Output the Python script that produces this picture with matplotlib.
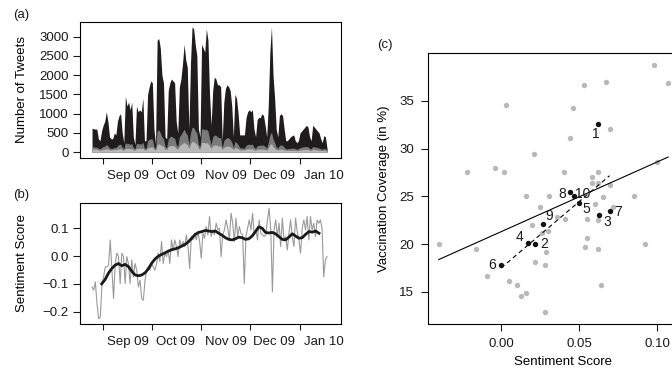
import numpy as np
import pandas as pd
import matplotlib
matplotlib.use("Agg")
import matplotlib.pyplot as plt

plt.rcParams['font.family'] = ['Liberation Sans', 'DejaVu Sans']
plt.rcParams['font.size'] = 9.5
plt.rcParams['text.color'] = '#1a1a1a'
plt.rcParams['xtick.color'] = '#1a1a1a'
plt.rcParams['ytick.color'] = '#1a1a1a'

# (a) daily tweet counts, stacked layers (cumulative tops)
tweets_total = [620, 610, 600, 600, 350, 300, 550, 700, 800, 1050, 800,
                400, 350, 350, 500, 450, 800, 950, 1000, 500, 250,
                1450, 1200, 1300, 1100, 1300, 400, 200, 1200, 1050, 1100,
                1050, 1400, 300, 300, 1500, 1700, 1850, 1800, 600, 200,
                2900, 2950, 2700, 2000, 1800, 400, 350, 1600, 1800, 1900,
                1850, 1800, 800, 500, 1700, 1900, 2300, 2800, 2400, 2200,
                600, 2300, 3250, 3200, 2800, 2500, 600, 400, 2800, 2700,
                2600, 3200, 2900, 1500, 700, 1600, 1950, 1900, 1750, 1750,
                1700, 300, 1300, 1650, 1750, 1700, 1600, 1200, 400, 1500,
                1400, 1000, 450, 450, 450, 450, 900, 1050, 1100, 1050,
                1100, 600, 400, 850, 900, 900, 1000, 950, 700, 400,
                1200, 2600, 3250, 2000, 1400, 600, 400, 950, 1000, 950,
                600, 300, 300, 350, 400, 430, 450, 300, 250, 300,
                500, 550, 600, 650, 700, 650, 400, 300, 700, 650,
                600, 550, 500, 350, 250, 430, 400, 100]
tweets_mid = [150, 140, 130, 130, 100, 90, 120, 150, 160, 200, 170,
              110, 100, 100, 130, 120, 170, 200, 210, 130, 90,
              250, 220, 230, 200, 230, 120, 90, 230, 220, 220,
              210, 260, 110, 100, 300, 330, 350, 340, 150, 90,
              550, 580, 500, 400, 350, 150, 120, 350, 400, 420,
              380, 370, 200, 150, 400, 450, 530, 600, 500, 450,
              200, 500, 650, 640, 560, 500, 200, 150, 600, 610,
              580, 600, 550, 350, 200, 400, 450, 440, 400, 380,
              380, 120, 300, 350, 380, 370, 330, 260, 130, 280,
              250, 200, 120, 110, 110, 110, 180, 200, 210, 200,
              210, 130, 100, 170, 180, 180, 190, 180, 150, 110,
              250, 450, 520, 350, 250, 140, 110, 180, 190, 180,
              130, 90, 90, 100, 100, 110, 110, 90, 80, 90,
              120, 130, 140, 150, 150, 140, 100, 90, 150, 140,
              130, 120, 110, 90, 80, 100, 90, 40]
tweets_low = [80, 80, 80, 80, 60, 50, 60, 70, 80, 90, 80,
              60, 60, 60, 70, 70, 80, 90, 100, 70, 50,
              100, 100, 100, 90, 100, 60, 50, 100, 100, 100,
              100, 110, 60, 60, 120, 130, 140, 140, 80, 50,
              200, 220, 200, 170, 150, 80, 70, 150, 170, 180,
              170, 160, 100, 80, 170, 200, 230, 260, 220, 200,
              100, 210, 280, 270, 240, 210, 100, 80, 250, 260,
              240, 250, 230, 160, 100, 170, 190, 190, 170, 160,
              160, 70, 130, 150, 160, 160, 140, 120, 70, 120,
              110, 90, 60, 60, 60, 60, 80, 90, 90, 90,
              90, 60, 50, 80, 80, 80, 80, 80, 70, 50,
              110, 200, 220, 150, 110, 70, 60, 80, 80, 80,
              60, 50, 50, 50, 50, 50, 50, 50, 40, 50,
              60, 60, 70, 70, 70, 70, 50, 50, 70, 70,
              60, 60, 50, 50, 40, 50, 50, 20]

# (b) daily sentiment and smoothed sentiment
sentiment_daily = [-0.111, -0.123, -0.093, -0.171, -0.225, -0.219, -0.099, -0.075,
                   -0.039, -0.039, -0.033, 0.058, -0.051, -0.153, -0.027, 0.010,
                   -0.002, -0.099, 0.010, -0.002, -0.099, -0.002, -0.027, -0.099,
                   -0.014, -0.075, -0.027, -0.051, -0.111, -0.087, -0.153, -0.159,
                   -0.087, -0.051, -0.039, -0.051, -0.027, -0.039, -0.051, -0.027,
                   0.010, -0.020, 0.052, -0.027, 0.010, -0.002, 0.022, -0.027,
                   0.058, 0.022, 0.058, 0.034, -0.002, 0.058, 0.034, 0.052,
                   0.034, 0.076, 0.034, -0.045, 0.070, 0.058, 0.082, 0.058,
                   0.088, 0.052, -0.008, 0.082, 0.064, 0.106, 0.076, 0.142,
                   0.070, 0.094, 0.076, 0.118, 0.094, 0.100, -0.002, 0.076,
                   0.094, 0.130, 0.100, 0.058, 0.154, 0.118, 0.052, 0.136,
                   0.070, 0.106, 0.082, 0.076, -0.099, 0.070, 0.100, 0.130,
                   0.094, 0.154, 0.076, 0.094, 0.058, 0.130, 0.082, 0.076,
                   0.070, 0.076, 0.130, 0.172, 0.094, -0.129, 0.094, 0.130,
                   0.070, 0.118, 0.034, 0.136, 0.058, 0.070, 0.022, 0.082,
                   0.130, 0.070, 0.034, 0.136, 0.088, 0.058, 0.010, 0.100,
                   0.130, 0.094, 0.142, 0.058, 0.142, 0.094, 0.118, 0.070,
                   0.130, 0.118, 0.130, 0.100, -0.075, -0.014, -0.002]
sentiment_smooth = [-0.100, -0.085, -0.062, -0.045, -0.033, -0.027, -0.035, -0.030,
                    -0.038, -0.055, -0.068, -0.071, -0.068, -0.060, -0.045, -0.025,
                    -0.010, 0.000, 0.006, 0.012, 0.018, 0.023, 0.026, 0.030,
                    0.036, 0.042, 0.052, 0.065, 0.078, 0.085, 0.088, 0.092,
                    0.090, 0.088, 0.090, 0.082, 0.075, 0.066, 0.060, 0.058,
                    0.062, 0.068, 0.066, 0.060, 0.062, 0.072, 0.088, 0.105,
                    0.100, 0.085, 0.083, 0.085, 0.080, 0.070, 0.060, 0.058,
                    0.068, 0.080, 0.072, 0.064, 0.066, 0.078, 0.088, 0.086,
                    0.090, 0.082]

month_labels = ['Sep 09', 'Oct 09', 'Nov 09', 'Dec 09', 'Jan 10']

# (c) state / region sentiment vs vaccination coverage
state_sentiment = [-0.040, -0.022, 0.003, -0.004, 0.002, -0.016, -0.009, 0.005,
                   0.010, 0.013, 0.016, 0.021, 0.016, 0.025, 0.031, 0.020,
                   0.022, 0.028, 0.029, 0.026, 0.030, 0.028, 0.040, 0.044,
                   0.046, 0.053, 0.036, 0.041, 0.058, 0.058, 0.055, 0.060,
                   0.062, 0.062, 0.062, 0.055, 0.054, 0.062, 0.064, 0.065,
                   0.070, 0.070, 0.067, 0.072, 0.085, 0.092, 0.098, 0.107,
                   0.100]
state_coverage = [20.0, 27.5, 34.6, 28.0, 27.6, 19.5, 16.7, 16.1,
                  15.7, 14.6, 14.9, 29.4, 25.0, 23.9, 25.0, 22.0,
                  18.1, 17.8, 19.2, 21.2, 21.4, 12.9, 27.5, 31.1,
                  34.2, 36.7, 22.8, 22.6, 27.0, 26.4, 22.6, 24.2,
                  27.5, 22.5, 26.4, 20.6, 19.7, 19.5, 15.7, 24.9,
                  32.0, 26.2, 37.0, 23.9, 25.0, 20.0, 38.8, 36.9,
                  28.6]
region_labels = ['1', '2', '3', '4', '5', '6', '7', '8', '9', '10']
region_sentiment = [0.062, 0.022, 0.063, 0.017, 0.050, 0.000, 0.0695, 0.044, 0.027, 0.047]
region_coverage = [32.6, 20.0, 23.1, 20.1, 24.3, 17.8, 23.5, 25.5, 22.1, 25.0]
fit_all = (21.3, 73.0)      # intercept, slope (all states)
fit_regions = (17.5, 139.0)  # intercept, slope (regions)

label_offsets = {'1': (-1.5, -7.5), '2': (6, 0), '3': (6, -5.5), '4': (-6, 4.5),
                 '5': (5.5, -4), '6': (-6.5, 0), '7': (6, -1), '8': (-5.5, -1.5),
                 '9': (4, 5.5), '10': (6, 1.5)}

fig = plt.figure(figsize=(6.72, 3.71), dpi=100)

tweet_dates = pd.date_range('2009-08-25', '2010-01-18', periods=len(tweets_total))
sent_dates = pd.date_range('2009-08-25', '2010-01-18', periods=len(sentiment_daily))
smooth_dates = pd.date_range('2009-08-31', '2010-01-13', periods=len(sentiment_smooth))
month_starts = pd.date_range('2009-09-01', '2010-01-01', freq='MS')
month_mid = month_starts + pd.Timedelta(days=15)
xlo, xhi = pd.Timestamp('2009-08-17 12:00'), pd.Timestamp('2010-01-26 12:00')


def style_time_axis(ax):
    ax.set_xlim(xlo, xhi)
    ax.set_xticks(month_starts)
    ax.set_xticklabels([])
    ax.set_xticks(month_mid, minor=True)
    ax.set_xticklabels(month_labels, minor=True)
    ax.tick_params(axis='x', which='major', length=4, width=0.8)
    ax.tick_params(axis='x', which='minor', length=0, pad=8.5)
    ax.tick_params(axis='y', length=5, width=0.8, pad=3)
    ax.yaxis.set_label_coords(-0.2, 0.5)
    for s in ax.spines.values():
        s.set_linewidth(0.8)


ax1 = fig.add_axes([0.119, 0.574, 0.388, 0.367])
ax1.fill_between(tweet_dates, 0, tweets_total, color='#1e1c1c', lw=0)
ax1.fill_between(tweet_dates, 0, tweets_mid, color='#7a7a7a', lw=0)
ax1.fill_between(tweet_dates, 0, tweets_low, color='#b8b8b8', lw=0)
ax1.set_ylim(-150, 3380)
ax1.set_yticks([0, 500, 1000, 1500, 2000, 2500, 3000])
ax1.set_ylabel('Number of Tweets')
style_time_axis(ax1)
fig.text(0.019, 0.96, '(a)', va='center')

ax2 = fig.add_axes([0.119, 0.127, 0.388, 0.326])
ax2.plot(sent_dates, sentiment_daily, color='#9a9a9a', lw=0.8)
ax2.plot(smooth_dates, sentiment_smooth, color='#1a1a1a', lw=2.0)
ax2.set_ylim(-0.244, 0.191)
ax2.set_yticks([-0.2, -0.1, 0.0, 0.1])
ax2.set_yticklabels(['\u22120.2', '\u22120.1', '0.0', '0.1'])
ax2.set_ylabel('Sentiment Score')
style_time_axis(ax2)
fig.text(0.019, 0.474, '(b)', va='center')

ax3 = fig.add_axes([0.637, 0.127, 0.402, 0.730])
ax3.scatter(state_sentiment, state_coverage, s=15, color='#b9b9b9', lw=0, zorder=2)
xs = np.array([min(state_sentiment), max(state_sentiment)])
ax3.plot(xs, fit_all[0] + fit_all[1] * xs, color='black', lw=0.8, zorder=3)
xr = np.array([min(region_sentiment), max(region_sentiment)])
ax3.plot(xr, fit_regions[0] + fit_regions[1] * xr, color='black', lw=0.8,
         ls=(0, (4, 3)), zorder=3)
ax3.scatter(region_sentiment, region_coverage, s=15, color='#111111', lw=0, zorder=4)
for lab, xv, yv in zip(region_labels, region_sentiment, region_coverage):
    ax3.annotate(lab, (xv, yv), xytext=label_offsets[lab], textcoords='offset points',
                 ha='center', va='center', fontsize=10, zorder=5)
ax3.set_xlim(-0.0468, 0.1263)
ax3.set_ylim(11.65, 40.0)
ax3.set_xticks([0.0, 0.05, 0.10])
ax3.set_xticklabels(['0.00', '0.05', '0.10'])
ax3.set_yticks([15, 20, 25, 30, 35])
ax3.tick_params(length=5, width=0.8, pad=5)
for s in ax3.spines.values():
    s.set_linewidth(0.8)
ax3.set_xlabel('Sentiment Score')
ax3.xaxis.set_label_coords(0.5, -0.118)
ax3.set_ylabel('Vaccination Coverage (in %)')
ax3.yaxis.set_label_coords(-0.142, 0.5)
fig.text(0.561, 0.878, '(c)', va='center')

fig.savefig('out.png', dpi=100)
